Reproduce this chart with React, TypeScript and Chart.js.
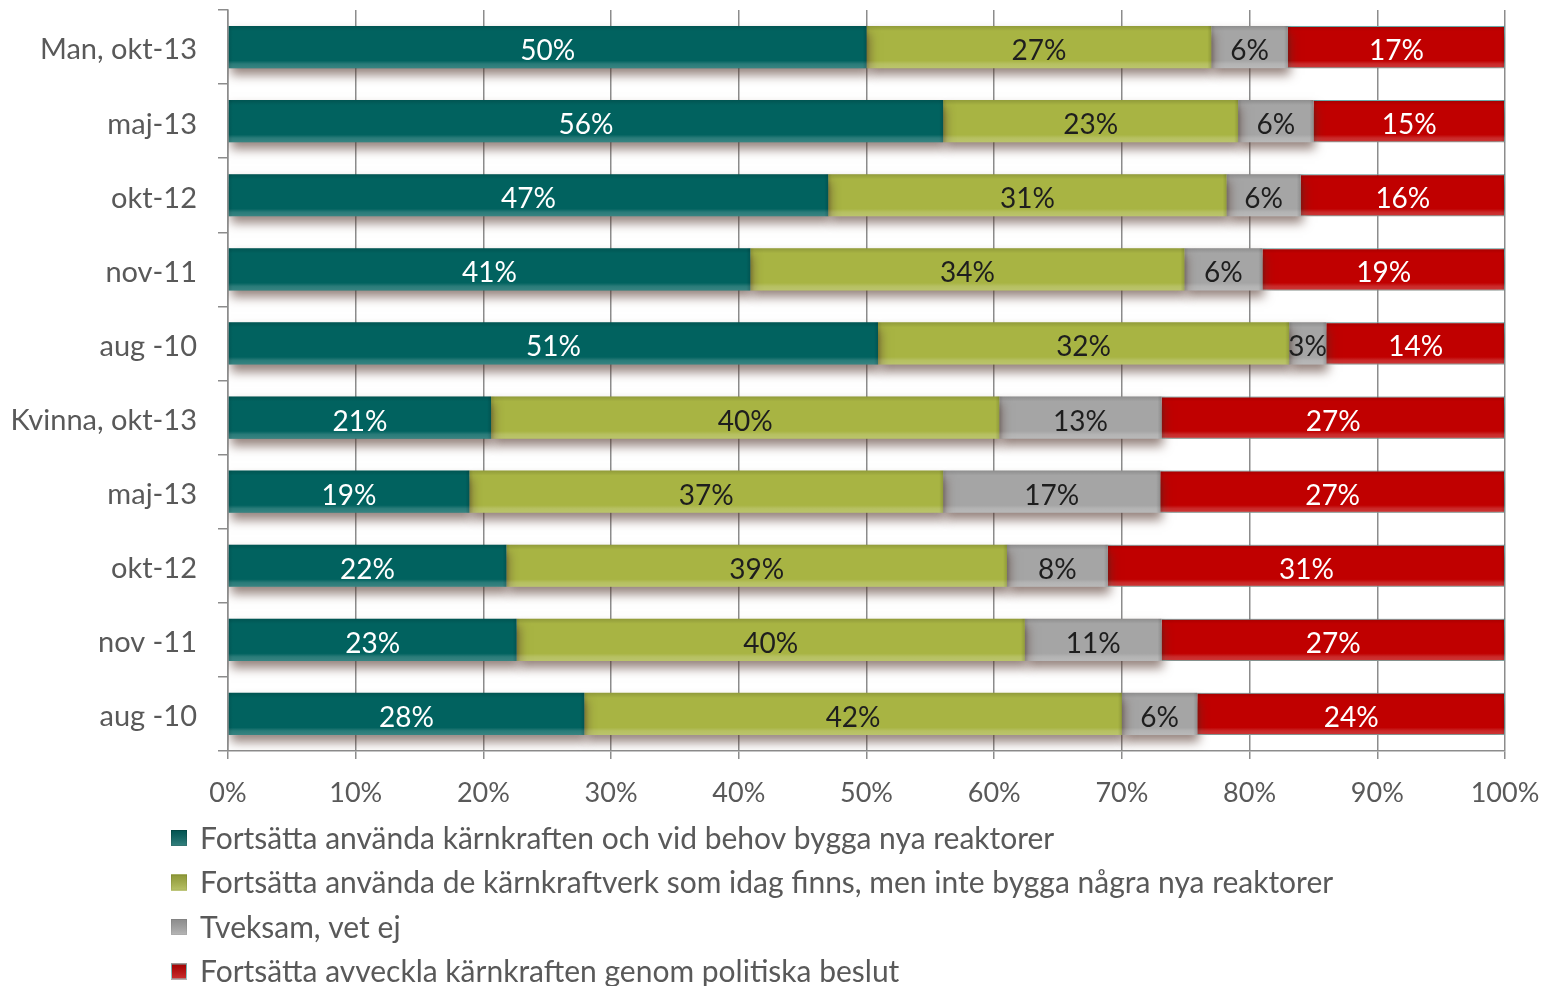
import React, { useEffect, useRef } from 'react';
import { Chart, registerables } from 'chart.js';

Chart.register(...registerables);

const categories = [
  'Man, okt-13',
  'maj-13',
  'okt-12',
  'nov-11',
  'aug -10',
  'Kvinna, okt-13',
  'maj-13',
  'okt-12',
  'nov -11',
  'aug -10',
];

const seriesNames = [
  'Fortsätta använda kärnkraften och vid behov bygga nya reaktorer',
  'Fortsätta använda de kärnkraftverk som idag finns, men inte bygga några nya reaktorer',
  'Tveksam, vet ej',
  'Fortsätta avveckla kärnkraften genom politiska beslut',
];

const buildNew = [50, 56, 47, 40.9, 50.9, 20.6, 18.9, 21.8, 22.6, 27.9];
const keepExisting = [27, 23.1, 31.2, 34.0, 32.2, 39.8, 37.1, 39.2, 39.8, 42.1];
const unsure = [6, 5.9, 5.8, 6.1, 2.9, 12.7, 17.0, 7.9, 10.7, 5.9];
const phaseOut = [17, 15, 16, 19, 14, 26.9, 27, 31.1, 26.9, 24.1];

const xTickValues = [0, 10, 20, 30, 40, 50, 60, 70, 80, 90, 100];

const seriesColors = ['#01625F', '#A8B443', '#A5A5A5', '#C00000'];
const labelColors = ['#ffffff', '#1e1e1e', '#1e1e1e', '#ffffff'];
const borderColors = ['#01524f', '#98a43a', '#999999', '#7cc8c8'];

const FONT = 'Lato';
const X_TICK_SIZE = 27;
const Y_TICK_SIZE = 29;
const BAR_LABEL_SIZE = 28;
const LEGEND_SIZE = 30;
const TEXT_GREY = '#595959';
const GRID_GREY = '#8C8C8C';

export default function App() {
  const ref = useRef<HTMLCanvasElement | null>(null);

  useEffect(() => {
    document.body.style.margin = '0';
    const canvas = ref.current;
    if (!canvas) return;

    const shadowPlugin = {
      id: 'barShadowAndLabels',
      beforeDatasetsDraw(chart: any) {
        const c = chart.ctx;
        c.save();
        c.shadowColor = 'rgba(80,50,40,0.6)';
        c.shadowBlur = 10;
        c.shadowOffsetX = 2;
        c.shadowOffsetY = 7;
      },
      afterDatasetsDraw(chart: any) {
        const c = chart.ctx;
        c.restore();
        // bevel overlay
        chart.data.datasets.forEach((ds: any, di: number) => {
          const meta = chart.getDatasetMeta(di);
          meta.data.forEach((el: any) => {
            const p = el.getProps(['x', 'y', 'base', 'height'], true);
            const left = Math.min(p.x, p.base);
            const w = Math.abs(p.x - p.base);
            const top = p.y - p.height / 2;
            const h = p.height;
            c.save();
            const g = c.createLinearGradient(0, top, 0, top + h);
            g.addColorStop(0, 'rgba(0,0,0,0.14)');
            g.addColorStop(0.12, 'rgba(0,0,0,0)');
            g.addColorStop(0.82, 'rgba(255,255,255,0)');
            g.addColorStop(0.9, 'rgba(255,255,255,0.16)');
            g.addColorStop(1, 'rgba(255,255,255,0.22)');
            c.fillStyle = g;
            c.fillRect(left, top, w, h);
            const gl = c.createLinearGradient(left, 0, left + w, 0);
            const edge = Math.min(0.5, 4 / Math.max(w, 1));
            gl.addColorStop(0, 'rgba(0,0,0,0.10)');
            gl.addColorStop(edge, 'rgba(0,0,0,0)');
            gl.addColorStop(1 - edge, 'rgba(0,0,0,0)');
            gl.addColorStop(1, 'rgba(0,0,0,0.14)');
            c.fillStyle = gl;
            c.fillRect(left, top, w, h);
            c.restore();
          });
        });
        // value labels
        c.save();
        c.font = `${BAR_LABEL_SIZE}px ${FONT}`;
        c.textAlign = 'center';
        c.textBaseline = 'middle';
        chart.data.datasets.forEach((ds: any, di: number) => {
          const meta = chart.getDatasetMeta(di);
          meta.data.forEach((el: any, i: number) => {
            const p = el.getProps(['x', 'y', 'base'], true);
            const cx = (p.x + p.base) / 2;
            c.fillStyle = labelColors[di];
            c.fillText(Math.round(ds.data[i]) + '%', cx, p.y + 4);
          });
        });
        c.restore();
      },
      afterDraw(chart: any) {
        const c = chart.ctx;
        c.save();
        c.font = `${LEGEND_SIZE}px ${FONT}`;
        c.textBaseline = 'middle';
        c.textAlign = 'left';
        const startY = 838;
        const step = 44.5;
        chart.data.datasets.forEach((ds: any, di: number) => {
          const y = startY + di * step;
          const s = 16;
          c.fillStyle = seriesColors[di];
          c.fillRect(171, y - s / 2, s, s);
          c.strokeStyle = borderColors[di];
          c.lineWidth = 1;
          c.strokeRect(171.5, y - s / 2 + 0.5, s - 1, s - 1);
          const g = c.createLinearGradient(0, y - s / 2, 0, y + s / 2);
          g.addColorStop(0, 'rgba(0,0,0,0.15)');
          g.addColorStop(1, 'rgba(255,255,255,0.2)');
          c.fillStyle = g;
          c.fillRect(171, y - s / 2, s, s);
          c.fillStyle = TEXT_GREY;
          c.fillText(ds.label, 200, y + 1);
        });
        c.restore();
      },
    };

    const seriesData = [buildNew, keepExisting, unsure, phaseOut];

    const chart = new Chart(canvas, {
      type: 'bar',
      data: {
        labels: categories,
        datasets: seriesData.map((d, i) => ({
          label: seriesNames[i],
          data: d,
          backgroundColor: seriesColors[i],
          borderColor: borderColors[i],
          borderWidth: i === 3 ? 1 : 0,
          barPercentage: 0.57,
          categoryPercentage: 1,
        })),
      },
      options: {
        indexAxis: 'y',
        animation: false,
        responsive: true,
        maintainAspectRatio: false,
        devicePixelRatio: 1,
        layout: { padding: { top: 10, right: 40, bottom: 166, left: 0 } },
        plugins: {
          legend: { display: false },
          tooltip: { enabled: false },
        },
        scales: {
          x: {
            type: 'linear',
            stacked: true,
            min: 0,
            max: 100,
            afterBuildTicks: (scale: any) => {
              scale.ticks = xTickValues.map((v) => ({ value: v }));
            },
            ticks: {
              callback: (v: any) => v + '%',
              color: TEXT_GREY,
              font: { family: FONT, size: X_TICK_SIZE },
              padding: 18,
              maxRotation: 0,
            },
            grid: {
              color: GRID_GREY,
              lineWidth: 1.5,
              tickLength: 8,
            },
            border: { color: GRID_GREY, width: 1.5 },
            afterFit: (scale: any) => {
              scale.height = 69;
              scale.paddingLeft = 0;
              scale.paddingRight = 0;
            },
          },
          y: {
            type: 'category',
            stacked: true,
            ticks: {
              color: TEXT_GREY,
              font: { family: FONT, size: Y_TICK_SIZE },
              padding: 21,
              labelOffset: 3,
            },
            grid: {
              drawOnChartArea: false,
              color: GRID_GREY,
              lineWidth: 1.5,
              tickLength: 10,
              offset: true,
            },
            border: { color: GRID_GREY, width: 1.5 },
            afterFit: (scale: any) => {
              scale.width = 228;
              scale.paddingTop = 0;
              scale.paddingBottom = 0;
            },
          },
        },
      },
      plugins: [shadowPlugin],
    });

    return () => {
      chart.destroy();
    };
  }, []);

  return (
    <div style={{ position: 'absolute', left: 0, top: 0, width: 1545, height: 986, background: '#ffffff' }}>
      <canvas ref={ref} />
    </div>
  );
}
